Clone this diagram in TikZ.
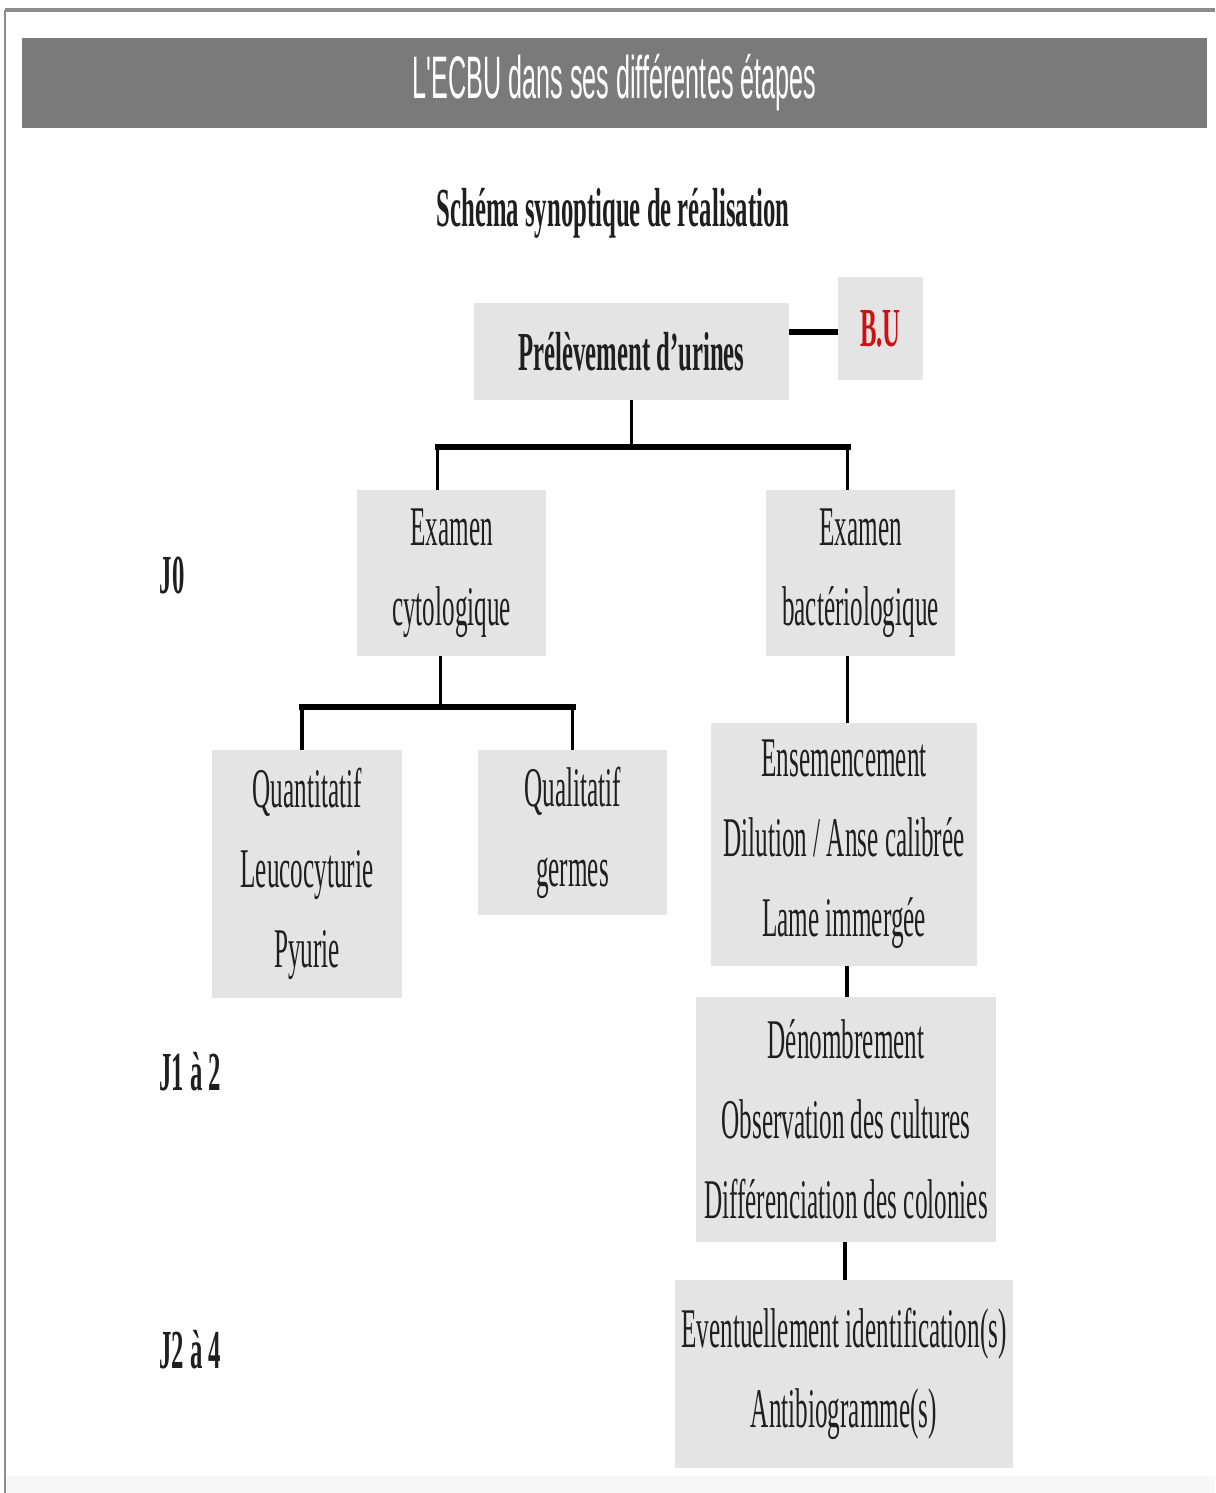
\documentclass[tikz,border=0pt]{standalone}
\usepackage{fontspec}
\setmainfont[FakeStretch=0.45]{Liberation Serif}
\newfontfamily\titlesans[FakeStretch=0.42]{Liberation Sans}
\definecolor{boxgray}{HTML}{E4E4E4}
\definecolor{bargray}{HTML}{7A7A7A}
\definecolor{framegray}{HTML}{8C8C8C}
\definecolor{bured}{HTML}{D01010}
\begin{document}
\begin{tikzpicture}[x=1pt,y=-1pt,
  box/.style={fill=boxgray, draw=none, inner sep=0pt, align=center,
    font=\fontsize{56}{80}\selectfont, text=black!88},
  boldbox/.style={box, font=\fontsize{55}{70}\selectfont\bfseries},
  lbl/.style={inner sep=0pt, font=\fontsize{55}{70}\selectfont\bfseries, text=black!88},
  link/.style={line width=3.5pt, black},
  bar/.style={line width=6pt, black}]
\useasboundingbox (0,0) rectangle (1215,1493);
\fill[white] (0,0) rectangle (1215,1493);
% frame
\fill[black!3] (5,1476) rectangle (1215,1493);
\draw[framegray, line width=4pt] (5,10) -- (1215,10);
\draw[framegray, line width=2pt] (5,10) -- (5,1493);
% title bar
\node[fill=bargray, minimum width=1185, minimum height=90, inner sep=0pt,
  text=white, font=\fontsize{60}{62}\selectfont\titlesans] (title) at (614.5,83)
  {L'ECBU dans ses différentes étapes};
\node[lbl] (subtitle) at (613,213) {Schéma synoptique de réalisation};
% boxes
\node[boldbox, minimum width=315, minimum height=97] (prel) at (631.5,351.5) {Prélèvement d’urines};
\node[boldbox, minimum width=85, minimum height=103, text=bured] (bu) at (880.5,328.5) {B.U};
\node[box, minimum width=189, minimum height=166] (cyto) at (451.5,573) {Examen\\cytologique};
\node[box, minimum width=189, minimum height=166] (bacto) at (860.5,573) {Examen\\bactériologique};
\node[box, minimum width=190, minimum height=248] (quanti) at (307,874) {Quantitatif\\Leucocyturie\\Pyurie};
\node[box, minimum width=189, minimum height=165] (quali) at (572.5,832.5) {Qualitatif\\germes};
\node[box, minimum width=266, minimum height=243] (ensem) at (844,844.5) {Ensemencement\\Dilution / Anse calibrée\\Lame immergée};
\node[box, minimum width=300, minimum height=245] (denom) at (846,1119.5) {Dénombrement\\Observation des cultures\\Différenciation des colonies};
\node[box, minimum width=338, minimum height=188] (event) at (844,1374) {Eventuellement identification(s)\\Antibiogramme(s)};
% day labels
\node[lbl] (j0) at (172,575) {J0};
\node[lbl] (j12) at (190,1072) {J1 à 2};
\node[lbl] (j24) at (190,1350) {J2 à 4};
% connectors
\draw[bar] (prel.east |- 0,332) -- (bu.west |- 0,332);
\coordinate (t1) at ([yshift=-47pt]prel.south);
\coordinate (cytotop) at ([xshift=-14pt]cyto.north);
\coordinate (bactotop) at ([xshift=-13pt]bacto.north);
\draw[link] (prel.south) -- (t1);
\draw[link] (cytotop) -- (cytotop |- t1);
\draw[link] (bactotop) -- (bactotop |- t1);
\draw[bar, line cap=rect] (cytotop |- t1) -- (bactotop |- t1);
\coordinate (cytobot) at ([xshift=-11pt]cyto.south);
\coordinate (t2) at ([yshift=-51pt]cytobot);
\coordinate (quantitop) at ([xshift=-5pt]quanti.north);
\draw[link] (cytobot) -- (t2);
\draw[link] (quantitop) -- (quantitop |- t2);
\draw[link] (quali.north) -- (quali.north |- t2);
\draw[bar, line cap=rect] (quantitop |- t2) -- (quali.north |- t2);
\coordinate (bactobot) at ([xshift=-13pt]bacto.south);
\draw[link] (bactobot) -- (bactobot |- ensem.north);
\draw[link] ([xshift=3pt]ensem.south) -- ([xshift=3pt]ensem.south |- denom.north);
\draw[link] ([xshift=-1pt]denom.south) -- ([xshift=-1pt]denom.south |- event.north);
\end{tikzpicture}
\end{document}
